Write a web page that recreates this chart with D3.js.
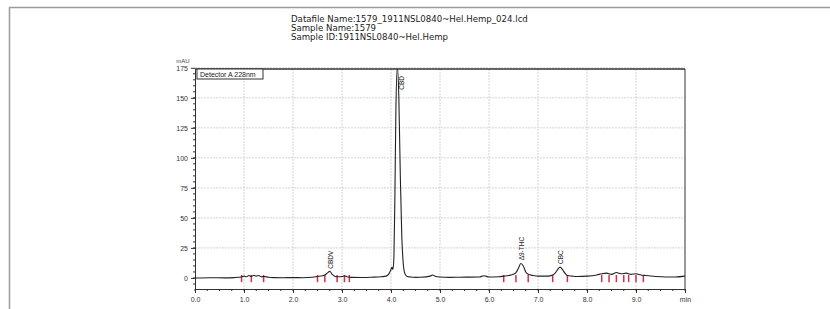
<!DOCTYPE html>
<html><head><meta charset="utf-8">
<script src="https://cdn.jsdelivr.net/npm/d3@7"></script>
<style>body{margin:0;background:#fff;}svg{display:block;font-family:"Liberation Sans",Arial,sans-serif;}</style>
</head><body>
<svg id="c" width="830" height="309"></svg>
<script>
const titleLines = ["Datafile Name:1579_1911NSL0840~Hel.Hemp_024.lcd","Sample Name:1579","Sample ID:1911NSL0840~Hel.Hemp"];
const legendText = "Detector A 228nm";
const xTickValues = [0,1,2,3,4,5,6,7,8,9,10];
const xTickLabels = ["0.0","1.0","2.0","3.0","4.0","5.0","6.0","7.0","8.0","9.0","min"];
const yTickValues = [0,25,50,75,100,125,150,175];
const times = [0.0,0.3,0.6,0.8,0.95,1.0,1.05,1.1,1.15,1.2,1.25,1.3,1.35,1.4,1.5,1.6,1.8,2.0,2.2,2.4,2.5,2.6,2.65,2.7,2.75,2.8,2.85,2.9,3.0,3.05,3.1,3.2,3.4,3.6,3.8,3.9,3.95,4.0,4.02,4.04,4.06,4.08,4.10,4.13,4.16,4.19,4.22,4.25,4.28,4.32,4.4,4.5,4.6,4.8,4.85,4.9,5.0,5.2,5.4,5.8,5.9,6.0,6.2,6.3,6.4,6.5,6.55,6.6,6.65,6.7,6.75,6.8,6.9,7.0,7.2,7.3,7.35,7.4,7.45,7.5,7.55,7.6,7.7,7.8,8.0,8.2,8.3,8.4,8.5,8.6,8.7,8.8,8.9,9.0,9.1,9.2,9.4,9.6,9.8,10.0];
const mAU = [0,0.2,0.1,0.3,0.8,1.5,1.0,2.0,1.2,2.2,1.5,2.0,1.0,1.2,0.6,0.3,0.2,0.3,0.2,0.6,1.2,1.8,2.5,4.0,5.5,3.0,1.5,1.0,1.2,1.8,1.0,0.5,0.4,0.6,1.0,1.5,3,7,9,7,18,70,140,176,150,85,35,12,4,1.5,0.8,0.5,0.6,1.5,2.5,1.5,0.8,0.5,0.6,0.8,1.8,0.8,1.0,1.5,2.0,3.0,4.5,8,12,10,5,3,2,1.5,1.5,2.5,4,7,9,7,4,2,1.5,1.2,1.5,2.5,3.5,4,3,4.5,3.5,4,3,3.5,2.5,2,1.2,0.8,0.8,1.5];
const peakTimes = [2.75,4.2,6.65,7.45];
const peakNames = ["CBDV","CBD","Δ9-THC","CBC"];
const peakLabelBase = [6,155,13,10];
const markTimes = [0.95,1.15,1.4,2.5,2.65,2.9,3.05,3.15,6.3,6.55,6.8,7.3,7.6,8.3,8.45,8.6,8.75,8.85,9.0,9.15];

const svg = d3.select("#c");
// outer frame
svg.append("rect").attr("x",9.5).attr("y",7.5).attr("width",830).attr("height",310)
  .attr("fill","none").attr("stroke","#9a9a9a").attr("stroke-width",1.5);

// title
svg.append("g").selectAll("text").data(titleLines).join("text")
  .attr("x",291).attr("y",(d,i)=>22+i*9).attr("font-size",8.6)
  .attr("font-family","DejaVu Sans, Verdana, sans-serif").attr("fill","#222").text(d=>d);

const L=195,R=685,T=69,B=289;
const x = d3.scaleLinear().domain([0,10]).range([L,R]);
const y = d3.scaleLinear().domain([-9.2,174]).range([B,T]);

// grid
svg.append("g").selectAll("line").data(xTickValues.slice(1,-1)).join("line")
  .attr("x1",d=>x(d)).attr("x2",d=>x(d)).attr("y1",T).attr("y2",B)
  .attr("stroke","#d4d4d4").attr("stroke-width",1).attr("stroke-dasharray","2,1");
svg.append("g").selectAll("line").data(yTickValues.slice(1)).join("line")
  .attr("x1",L).attr("x2",R).attr("y1",d=>y(d)).attr("y2",d=>y(d))
  .attr("stroke","#d4d4d4").attr("stroke-width",1).attr("stroke-dasharray","2,1");

// axes
const xAxis = d3.axisBottom(x).tickValues(xTickValues).tickFormat((d,i)=>xTickLabels[i]).tickSize(4).tickSizeOuter(0);
const gx = svg.append("g").attr("transform",`translate(0,${B})`).call(xAxis);
const xMinor = d3.range(0,10.01,0.25);
gx.append("g").selectAll("line").data(xMinor).join("line").attr("x1",d=>x(d)).attr("x2",d=>x(d)).attr("y1",0).attr("y2",2).attr("stroke","#333");
const yAxis = d3.axisLeft(y).tickValues(yTickValues).tickSize(4).tickSizeOuter(0);
const gy = svg.append("g").attr("transform",`translate(${L},0)`).call(yAxis);
const yMinor = d3.range(-5,175,5);
gy.append("g").selectAll("line").data(yMinor).join("line").attr("x1",-2).attr("x2",0).attr("y1",d=>y(d)).attr("y2",d=>y(d)).attr("stroke","#333");
[gx,gy].forEach(g=>{g.selectAll("text").attr("font-size",7).attr("fill","#333").attr("font-family","Liberation Sans, Arial");g.selectAll(".domain,.tick line").attr("stroke","#333");});
gx.selectAll(".tick text").attr("dy","0.9em");
svg.append("text").attr("x",L-12).attr("y",T-6).attr("font-size",6).attr("fill","#444").attr("text-anchor","middle").text("mAU");

// frame top & right
svg.append("line").attr("x1",L).attr("x2",R).attr("y1",T).attr("y2",T).attr("stroke","#333").attr("stroke-width",1.5);
svg.append("line").attr("x1",R).attr("x2",R).attr("y1",T).attr("y2",B).attr("stroke","#333").attr("stroke-width",1);

// clip
svg.append("clipPath").attr("id","pc").append("rect").attr("x",L).attr("y",T).attr("width",R-L).attr("height",B-T);
const plot = svg.append("g").attr("clip-path","url(#pc)");

// red integration markers
plot.append("g").selectAll("line").data(markTimes).join("line")
  .attr("x1",d=>x(d)).attr("x2",d=>x(d))
  .attr("y1",d=>y(-3.5)).attr("y2",d=>y(2.5))
  .attr("stroke","#d0304a").attr("stroke-width",1.5);

const pts = times.map((t,i)=>[t,mAU[i]]);
plot.append("path").datum(pts)
  .attr("d",d3.line().x(d=>x(d[0])).y(d=>y(d[1])).curve(d3.curveMonotoneX))
  .attr("fill","none").attr("stroke","#222").attr("stroke-width",1.1);

// peak labels
svg.append("g").selectAll("text").data(peakTimes).join("text")
  .attr("transform",(d,i)=>`translate(${x(d)+3},${y(peakLabelBase[i])-2}) rotate(-90)`)
  .attr("font-size",6.5).attr("fill","#222").text((d,i)=>peakNames[i]);

// legend box
const lg = svg.append("g");
lg.append("rect").attr("x",L+2).attr("y",T).attr("width",66).attr("height",10).attr("fill","#fff").attr("stroke","#333");
lg.append("text").attr("x",L+5).attr("y",T+7.5).attr("font-size",7).attr("fill","#222").text(legendText);
</script>
</body></html>
